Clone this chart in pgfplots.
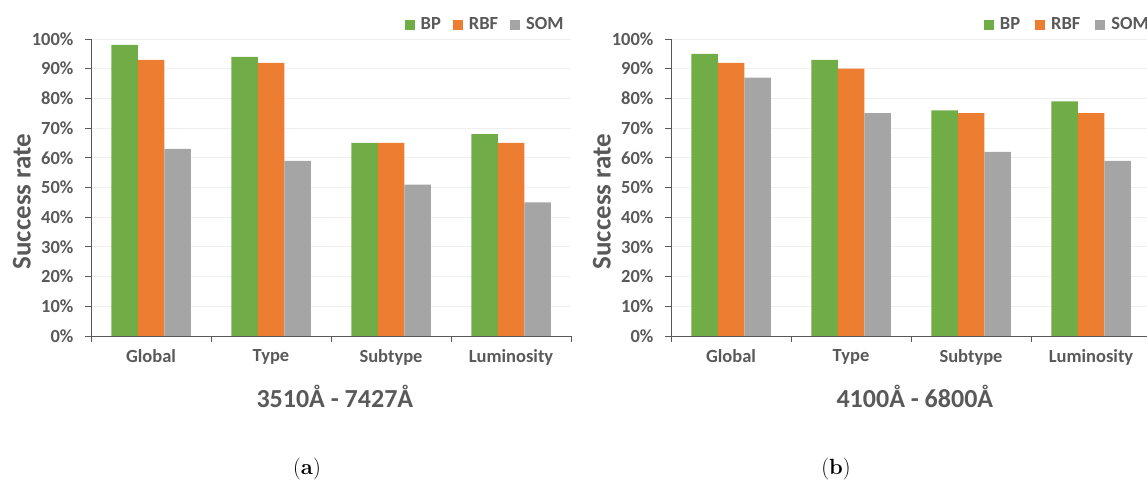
\documentclass[border=0pt]{standalone}
\usepackage{pgfplots}
\pgfplotsset{compat=1.18}
\usepackage{pgfplotstable}
\usepackage{fontspec}
\newfontfamily\carl{Carlito}
\definecolor{bpgreen}{HTML}{70AD47}
\definecolor{rbforange}{HTML}{ED7D31}
\definecolor{somgray}{HTML}{A5A5A5}
\definecolor{txt}{HTML}{595959}
\definecolor{gridc}{HTML}{EFEFEF}
\definecolor{axc}{HTML}{595959}

\pgfplotstableread{
x BP RBF SOM
0 98 93 63
1 94 92 59
2 65 65 51
3 68 65 45
}\dataA
\pgfplotstableread{
x BP RBF SOM
0 95 92 87
1 93 90 75
2 76 75 62
3 79 75 59
}\dataB

\pgfplotsset{
  mybar/.style={
    scale only axis, width=480pt, height=297pt,
    anchor=south west,
    xmin=-0.5, xmax=3.5, ymin=0, ymax=100,
    ybar=0pt, bar width=26.5pt,
    axis x line*=bottom, axis y line*=left,
    axis line style={draw=axc, line width=0.9pt},
    xtick={-0.5,0.5,1.5,2.5,3.5},
    xticklabels={Global,Type,Subtype,Luminosity},
    x tick label as interval,
    ytick={0,10,...,100},
    yticklabels={0\%,10\%,20\%,30\%,40\%,50\%,60\%,70\%,80\%,90\%,100\%},
    ymajorgrids, grid style={draw=gridc, line width=0.8pt},
    tick align=outside, major tick length=6pt,
    tick style={draw=axc, line width=0.9pt},
    ticklabel style={font=\carl\bfseries\fontsize{18.5}{18.5}\selectfont, text=txt},
    yticklabel style={xshift=-8pt},
    xticklabel style={yshift=-4pt},
    xlabel style={font=\carl\bfseries\fontsize{26}{26}\selectfont, text=txt,
      at={(axis description cs:0.508,-0.202)}, anchor=center},
    ylabel style={font=\carl\bfseries\fontsize{27}{27}\selectfont, text=txt,
      at={(axis description cs:-0.144,0.453)}, anchor=center},
    ylabel={Success rate},
    legend columns=3,
    legend image code/.code={\fill[##1] (0pt,-5pt) rectangle (10pt,5pt);},
    legend style={draw=none, fill=none, inner sep=0pt, nodes={inner sep=0pt},
      font=\carl\bfseries\fontsize{18.5}{18.5}\selectfont, text=txt,
      at={(0.985,1.072)}, anchor=north east,
      /tikz/every odd column/.append style={column sep=6pt},
      /tikz/every even column/.append style={column sep=12pt}},
  }
}

\begin{document}
\begin{tikzpicture}[x=1pt,y=1pt]
\path[use as bounding box] (0,0) rectangle (1147,481);

\begin{axis}[mybar, at={(91pt,145pt)}, xlabel={3510Å - 7427Å}]
\addplot[fill=bpgreen, draw=none] table[x=x,y=BP]{\dataA};
\addplot[fill=rbforange, draw=none] table[x=x,y=RBF]{\dataA};
\addplot[fill=somgray, draw=none] table[x=x,y=SOM]{\dataA};
\legend{BP,RBF,SOM}
\end{axis}

\begin{axis}[mybar, at={(671pt,145pt)}, xlabel={4100Å - 6800Å},
  legend style={at={(0.996,1.072)},
    /tikz/every even column/.append style={column sep=15pt}}]
\addplot[fill=bpgreen, draw=none] table[x=x,y=BP]{\dataB};
\addplot[fill=rbforange, draw=none] table[x=x,y=RBF]{\dataB};
\addplot[fill=somgray, draw=none] table[x=x,y=SOM]{\dataB};
\legend{BP,RBF,SOM}
\end{axis}

\node[font=\fontsize{22}{22}\selectfont] at (307,12) {(\textbf{a})};
\node[font=\fontsize{22}{22}\selectfont] at (836,12) {(\textbf{b})};
\end{tikzpicture}
\end{document}
